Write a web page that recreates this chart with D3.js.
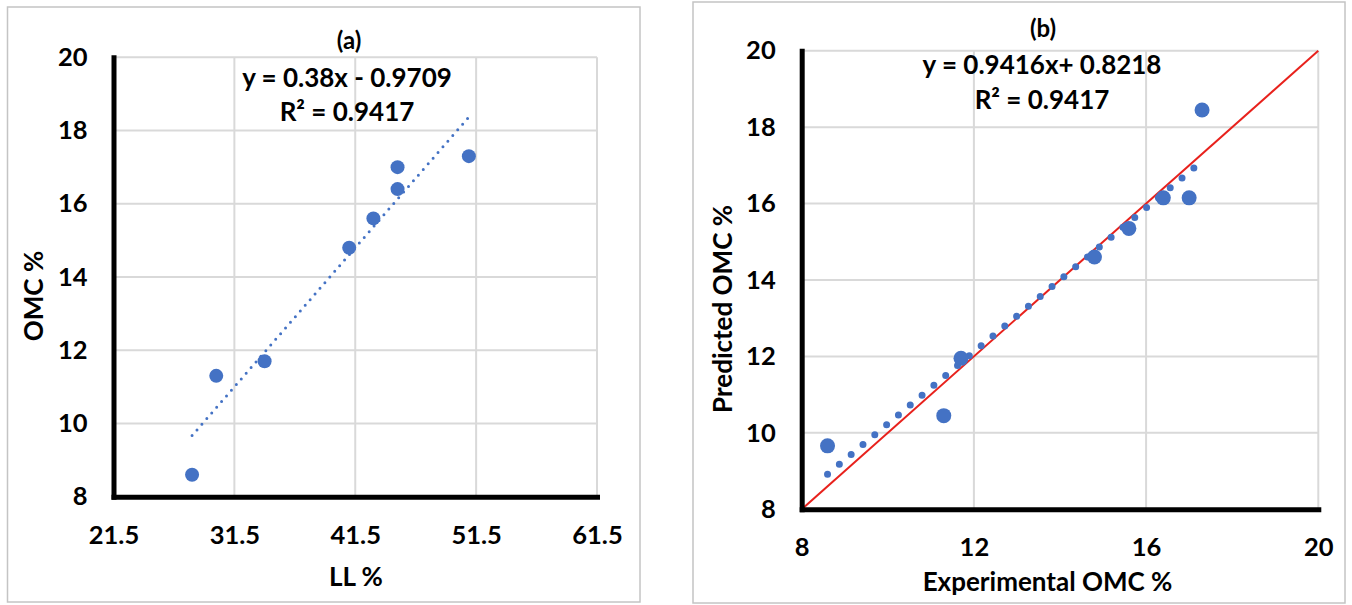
<!DOCTYPE html>
<html>
<head>
<meta charset="utf-8">
<script src="https://cdn.jsdelivr.net/npm/d3@7"></script>
<style>
  body { margin: 0; background: #fff; }
  text { font-family: Lato, "Open Sans", sans-serif; font-weight: 700; fill: #000; }
</style>
</head>
<body>
<div id="chart"></div>
<script>
// ---- data ----
// panel (a): liquid limit vs OMC
const llValues  = [28.0, 30.0, 34.0, 41.0, 43.0, 45.0, 45.0, 50.9];
const omcValues = [8.6, 11.3, 11.7, 14.8, 15.6, 16.4, 17.0, 17.3];
const trendA    = [[28.0, 9.67], [50.9, 18.37]];
const xTicksA   = [21.5, 31.5, 41.5, 51.5, 61.5];
const yTicks    = [8, 10, 12, 14, 16, 18, 20];

// panel (b): experimental vs predicted OMC
const experimentalOmc = [8.6, 11.3, 11.7, 14.8, 15.6, 16.4, 17.0, 17.3];
const predictedOmc    = [9.66, 10.45, 11.95, 14.6, 15.35, 16.15, 16.15, 18.45];
const trendB          = [[8.6, 8.92], [17.3, 17.11]];
const identityLine    = [[8, 8], [20, 20]];
const xTicksB         = [8, 12, 16, 20];

const blue = "#4472c4";
const width = 1352, height = 605;

const svg = d3.select("#chart")
    .append("svg")
    .attr("width", width)
    .attr("height", height);

function drawPanel(p) {
    // outer frame
    svg.append("rect")
        .attr("x", p.frame[0]).attr("y", p.frame[1])
        .attr("width", p.frame[2]).attr("height", p.frame[3])
        .attr("fill", "#fff")
        .attr("stroke", "#c4c4c4")
        .attr("stroke-width", 1.5);

    const x = d3.scaleLinear().domain(p.xDomain).range([p.left, p.right]);
    const y = d3.scaleLinear().domain([8, 20]).range([p.bottom, p.top]);
    const g = svg.append("g");

    // gridlines
    g.selectAll(".vgrid").data(p.xTicks.slice(1)).join("line")
        .attr("x1", d => x(d)).attr("x2", d => x(d))
        .attr("y1", p.top).attr("y2", p.bottom)
        .attr("stroke", "#d9d9d9").attr("stroke-width", 2);
    g.selectAll(".hgrid").data(yTicks.slice(1)).join("line")
        .attr("x1", p.left).attr("x2", p.right)
        .attr("y1", d => y(d)).attr("y2", d => y(d))
        .attr("stroke", "#d9d9d9").attr("stroke-width", 2);

    const line = d3.line().x(d => x(d[0])).y(d => y(d[1]));

    // red 1:1 line (panel b only)
    if (p.identity) {
        g.append("path").datum(p.identity)
            .attr("d", line)
            .attr("fill", "none")
            .attr("stroke", "#e8211c")
            .attr("stroke-width", 2);
    }

    // dotted trendline
    g.append("path").datum(p.trend)
        .attr("d", line)
        .attr("fill", "none")
        .attr("stroke", blue)
        .attr("stroke-width", p.trendWidth)
        .attr("stroke-linecap", "round")
        .attr("stroke-dasharray", p.trendDash);

    // points
    g.selectAll(".pt").data(p.xs.map((v, i) => [v, p.ys[i]])).join("circle")
        .attr("cx", d => x(d[0]))
        .attr("cy", d => y(d[1]))
        .attr("r", p.r)
        .attr("fill", blue);

    // axes
    const yAxis = g.append("g")
        .attr("transform", `translate(${p.left},0)`)
        .call(d3.axisLeft(y).tickValues(yTicks).tickSize(0).tickSizeOuter(0).tickPadding(26).tickFormat(d3.format("d")));
    const xAxis = g.append("g")
        .attr("transform", `translate(0,${p.bottom})`)
        .call(d3.axisBottom(x).tickValues(p.xTicks).tickSize(0).tickSizeOuter(0).tickPadding(29).tickFormat(p.xFormat));

    [xAxis, yAxis].forEach(a => {
        a.attr("font-family", null).attr("font-size", 25.5);
        a.select(".domain").attr("stroke", "#000").attr("stroke-width", 5).attr("stroke-linecap", "square");
        a.selectAll("text").attr("fill", "#000");
    });

    // titles and equation
    g.append("text")
        .attr("x", p.titlePos[0]).attr("y", p.titlePos[1])
        .attr("dy", "0.35em")
        .attr("text-anchor", "middle")
        .style("font-size", "24px")
        .text(p.title);
    p.equation.forEach((t, i) => {
        g.append("text")
            .attr("x", p.eqPos[0]).attr("y", p.eqPos[1] + i * p.eqStep)
            .attr("dy", "0.35em")
            .attr("text-anchor", "middle")
            .style("font-size", "26px")
            .text(t);
    });
    g.append("text")
        .attr("x", p.xLabelPos[0]).attr("y", p.xLabelPos[1])
        .attr("dy", "0.35em")
        .attr("text-anchor", "middle")
        .style("font-size", "26px")
        .text(p.xLabel);
    g.append("text")
        .attr("transform", `translate(${p.yLabelPos[0]},${p.yLabelPos[1]}) rotate(-90)`)
        .attr("dy", "0.35em")
        .attr("text-anchor", "middle")
        .style("font-size", "26px")
        .text(p.yLabel);
}

drawPanel({
    frame: [7.5, 7, 632.5, 595],
    left: 113.5, right: 597, top: 57.3, bottom: 496.7,
    xDomain: [21.5, 61.5], xTicks: xTicksA, xFormat: d3.format(".1f"),
    xs: llValues, ys: omcValues, r: 7,
    trend: trendA, trendWidth: 3, trendDash: "0 7.5",
    title: "(a)", titlePos: [349, 41],
    equation: ["y = 0.38x - 0.9709", "R² = 0.9417"], eqPos: [347, 78], eqStep: 34,
    xLabel: "LL %", xLabelPos: [356, 577],
    yLabel: "OMC %", yLabelPos: [33.5, 296]
});

drawPanel({
    frame: [693, 2, 652, 601],
    left: 801.7, right: 1318.3, top: 50.7, bottom: 509.3,
    xDomain: [8, 20], xTicks: xTicksB, xFormat: d3.format("d"),
    xs: experimentalOmc, ys: predictedOmc, r: 7.5,
    identity: identityLine,
    trend: trendB, trendWidth: 7, trendDash: "0 15.4",
    title: "(b)", titlePos: [1043, 29],
    equation: ["y = 0.9416x+ 0.8218", "R² = 0.9417"], eqPos: [1042, 65], eqStep: 34.5,
    xLabel: "Experimental OMC %", xLabelPos: [1047.5, 582],
    yLabel: "Predicted OMC %", yLabelPos: [722.7, 309]
});
</script>
</body>
</html>
